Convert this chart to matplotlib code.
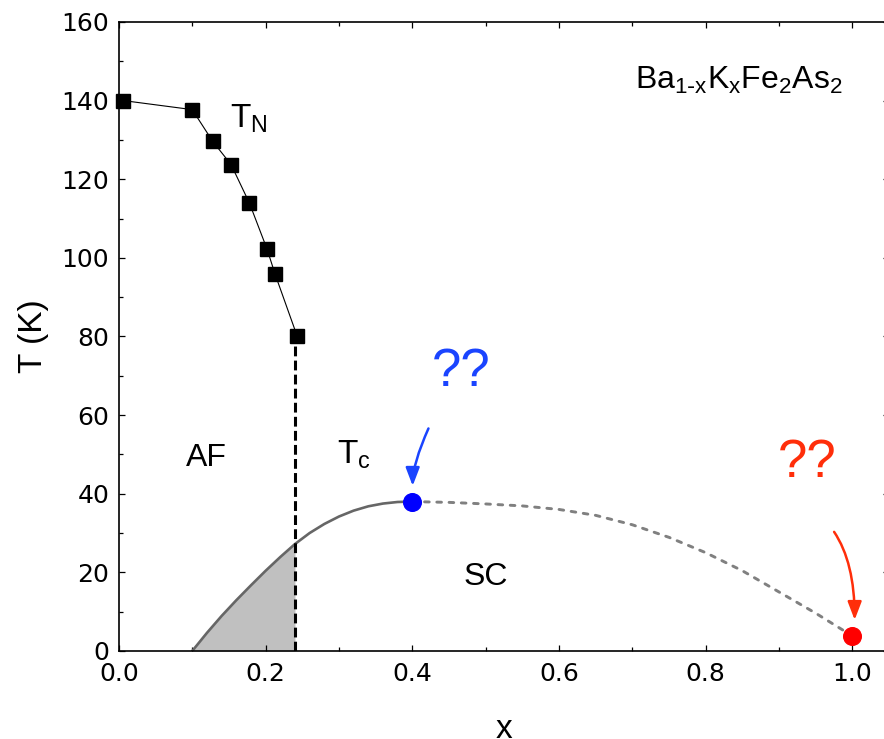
import numpy as np
import matplotlib
matplotlib.use('Agg')
import matplotlib.pyplot as plt
from matplotlib.ticker import MultipleLocator

plt.rcParams['font.family'] = ['Liberation Sans', 'DejaVu Sans']
plt.rcParams['mathtext.default'] = 'regular'

#-----------------------------------------------------------------------------------------------
# Data

# Neel temperature points
x_tn = [0.006, 0.100, 0.128, 0.153, 0.178, 0.202, 0.213, 0.243]
t_tn = [140.0, 137.7, 129.6, 123.7, 113.9, 102.2, 95.8, 80.1]

# Tc dome, solid part (x <= 0.4)
x_tc = [0.10, 0.12, 0.14, 0.16, 0.18, 0.20, 0.22, 0.24,
        0.26, 0.28, 0.30, 0.32, 0.34, 0.36, 0.38, 0.40]
t_tc = [0.0, 4.6, 8.9, 12.9, 16.7, 20.4, 23.9, 27.2,
        30.0, 32.3, 34.2, 35.7, 36.8, 37.5, 37.9, 38.0]

# Tc dome, dotted guess (x >= 0.4)
x_guess = [0.40, 0.45, 0.50, 0.55, 0.60, 0.65, 0.70,
           0.75, 0.80, 0.85, 0.90, 0.95, 1.00]
t_guess = [38.0, 37.8, 37.4, 36.9, 36.0, 34.5, 32.1,
           28.9, 25.0, 20.4, 15.0, 9.6, 3.8]

x_af = 0.24          # AF boundary (dashed line)
t_af_top = 80.0

x_opt, t_opt = 0.40, 38.0   # blue point
x_end, t_end = 1.00, 3.8    # red point

#-----------------------------------------------------------------------------------------------
# Plot

fig = plt.figure(figsize=(8.84, 7.39), dpi=100)
ax = fig.add_axes([0.1345, 0.1191, 0.8713, 0.8512])

# shaded coexistence region
xs = np.array(x_tc)
ts = np.array(t_tc)
m = xs <= x_af + 1e-9
ax.fill_between(xs[m], 0, ts[m], color='#c0c0c0', lw=0, zorder=1)

ax.plot(x_tc, t_tc, color='#666666', lw=1.9, zorder=2, solid_capstyle='round')
ax.plot(x_guess, t_guess, color='#808080', lw=2.1, zorder=2,
        dashes=(1.6, 2.6), dash_capstyle='round')

ax.plot([x_af, x_af], [0, t_af_top], color='black', lw=2.2, dashes=(3.2, 1.4), zorder=3)

ax.plot(x_tn, t_tn, color='black', lw=0.8, marker='s', ms=10, mfc='black',
        mec='black', zorder=4, clip_on=False)

ax.plot([x_opt], [t_opt], 'o', color='#0000ff', ms=12.7, zorder=5, clip_on=False)
ax.plot([x_end], [t_end], 'o', color='#ff0000', ms=12.7, zorder=5, clip_on=False)

# arrows + question marks
blue = '#1a44ff'
red = '#ff2e0a'
ax.annotate('', xy=(0.4005, 42.0), xytext=(0.422, 56.6),
            arrowprops=dict(arrowstyle='-|>,head_length=1.1,head_width=0.42',
                            connectionstyle='angle3,angleA=66,angleB=90',
                            color=blue, lw=1.8, shrinkA=0, shrinkB=0,
                            mutation_scale=10))
ax.annotate('', xy=(1.003, 7.9), xytext=(0.975, 30.3),
            arrowprops=dict(arrowstyle='-|>,head_length=1.1,head_width=0.42',
                            connectionstyle='angle3,angleA=-56,angleB=90',
                            color=red, lw=1.8, shrinkA=0, shrinkB=0,
                            mutation_scale=10))
ax.text(0.467, 71.0, '??', color=blue, fontsize=38, ha='center', va='center')
ax.text(0.938, 47.9, '??', color=red, fontsize=38, ha='center', va='center')

# labels inside the plot
ax.text(0.1515, 133.0, '$T_N$', fontsize=24, ha='left', va='baseline')
ax.text(0.0915, 47.1, 'AF', fontsize=23, ha='left', va='baseline')
ax.text(0.297, 47.7, '$T_c$', fontsize=24, ha='left', va='baseline')
ax.text(0.4695, 16.8, 'SC', fontsize=23, ha='left', va='baseline')
ax.text(0.7036, 142.9, r'$Ba_{1\text{-}x}K_xFe_2As_2$', fontsize=23,
        ha='left', va='baseline')

# axes
ax.set_xlim(0, 1.05)
ax.set_ylim(0, 160)
ax.xaxis.set_major_locator(MultipleLocator(0.2))
ax.xaxis.set_minor_locator(MultipleLocator(0.1))
ax.yaxis.set_major_locator(MultipleLocator(20))
ax.yaxis.set_minor_locator(MultipleLocator(10))
ax.set_xticks([0, 0.2, 0.4, 0.6, 0.8, 1.0])
ax.set_xticklabels(['0.0', '0.2', '0.4', '0.6', '0.8', '1.0'])
ax.tick_params(which='both', direction='in', top=True, right=True, width=0.9)
ax.tick_params(which='major', length=4.5)
ax.tick_params(which='minor', length=2.6)
ax.tick_params(axis='x', pad=8)
ax.tick_params(axis='y', pad=7)
for lab in ax.get_xticklabels() + ax.get_yticklabels():
    lab.set_family('DejaVu Sans')
    lab.set_fontsize(18)
for sp in ax.spines.values():
    sp.set_linewidth(1.2)

ax.set_xlabel('x', fontsize=24, labelpad=20)
ax.set_ylabel('T (K)', fontsize=24)
ax.yaxis.set_label_coords(-0.091, 0.5)

fig.savefig('out.png', dpi=100)
